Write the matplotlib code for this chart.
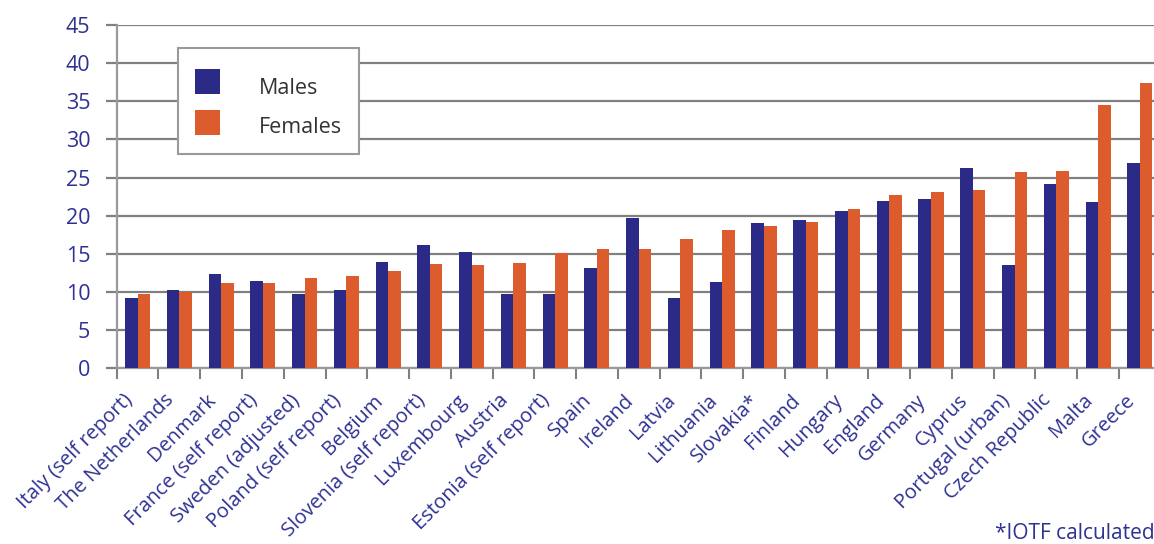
import matplotlib
matplotlib.use("Agg")
import matplotlib.pyplot as plt
import numpy as np
from matplotlib.patches import Rectangle
from matplotlib.transforms import ScaledTranslation

countries = ["Italy (self report)", "The Netherlands", "Denmark", "France (self report)",
             "Sweden (adjusted)", "Poland (self report)", "Belgium", "Slovenia (self report)",
             "Luxembourg", "Austria", "Estonia (self report)", "Spain", "Ireland", "Latvia",
             "Lithuania", "Slovakia*", "Finland", "Hungary", "England", "Germany", "Cyprus",
             "Portugal (urban)", "Czech Republic", "Malta", "Greece"]
males = [9.2, 10.3, 12.4, 11.4, 9.7, 10.3, 13.9, 16.2, 15.3, 9.7, 9.7, 13.2, 19.7, 9.2,
         11.3, 19.1, 19.4, 20.6, 21.9, 22.2, 26.3, 13.5, 24.2, 21.8, 26.9]
females = [9.7, 10.0, 11.2, 11.2, 11.8, 12.1, 12.7, 13.7, 13.5, 13.8, 15.1, 15.6, 15.6, 16.9,
           18.1, 18.6, 19.2, 20.9, 22.7, 23.1, 23.4, 25.7, 25.9, 34.5, 37.4]
yticks = [0, 5, 10, 15, 20, 25, 30, 35, 40, 45]
series_names = ["Males", "Females"]

NAVY = "#2b2a87"
ORANGE = "#dc5c2e"
TXT = "#2e3192"
GRID = "#808080"

W, H = 1154, 544
fig = plt.figure(figsize=(W / 100, H / 100), dpi=100)
plt.rcParams['font.family'] = ['Open Sans', 'DejaVu Sans']

left_px, right_px, top_px, base_px = 116.7, 1160.7, 25.0, 368.3
ax = fig.add_axes([left_px / W, 1 - base_px / H, (right_px - left_px) / W, (base_px - top_px) / H])

n = len(countries)
x = np.arange(n)
bw = 0.3
ax.bar(x - bw / 2, males, width=bw, color=NAVY, zorder=3, label=series_names[0])
ax.bar(x + bw / 2, females, width=bw, color=ORANGE, zorder=3, label=series_names[1])

ax.set_xlim(-0.5, n - 0.5)
ax.set_ylim(0, 45)
ax.set_yticks(yticks)
ax.set_yticklabels([str(t) for t in yticks], fontsize=15.5, color=TXT)
ax.yaxis.grid(True, color=GRID, linewidth=1.6, zorder=0)
ax.tick_params(axis='y', length=8, width=1.6, color=GRID, pad=11)

ax.set_xticks(np.arange(n + 1) - 0.5)
ax.set_xticklabels([])
ax.tick_params(axis='x', which='major', length=8, width=1.5, color=GRID)
ax.set_xticks(x, minor=True)
ax.set_xticklabels(countries, minor=True, rotation=45, ha='right', va='center',
                   rotation_mode='anchor', fontsize=14.5, color=TXT)
ax.tick_params(axis='x', which='minor', length=0, pad=21)
for lbl in ax.get_xticklabels(minor=True):
    lbl.set_transform(lbl.get_transform() + ScaledTranslation(-8 / 100, 0, fig.dpi_scale_trans))

for s in ['top', 'right']:
    ax.spines[s].set_visible(False)
for s in ['left', 'bottom']:
    ax.spines[s].set_color("#9a9a9a")
    ax.spines[s].set_linewidth(1.6)

def fx(px):
    return px / W

def fy(py):
    return 1 - py / H

fig.add_artist(Rectangle((fx(178), fy(154)), (359 - 178) / W, (154 - 48) / H,
                         transform=fig.transFigure, facecolor='white', edgecolor='#9a9a9a',
                         linewidth=1.5, zorder=10))
for i, (name, col) in enumerate(zip(series_names, [NAVY, ORANGE])):
    top = 69 + i * 41
    fig.add_artist(Rectangle((fx(195), fy(top + 25)), 25 / W, 25 / H,
                             transform=fig.transFigure, facecolor=col, edgecolor='none', zorder=11))
    fig.text(fx(259), fy(94 + i * 39), name, fontsize=15.5, color='#333333', va='baseline',
             ha='left', zorder=12)

fig.text(fx(995), fy(539), "*IOTF calculated", fontsize=15, color=TXT, va='baseline', ha='left')

fig.savefig("out.png", dpi=100)
